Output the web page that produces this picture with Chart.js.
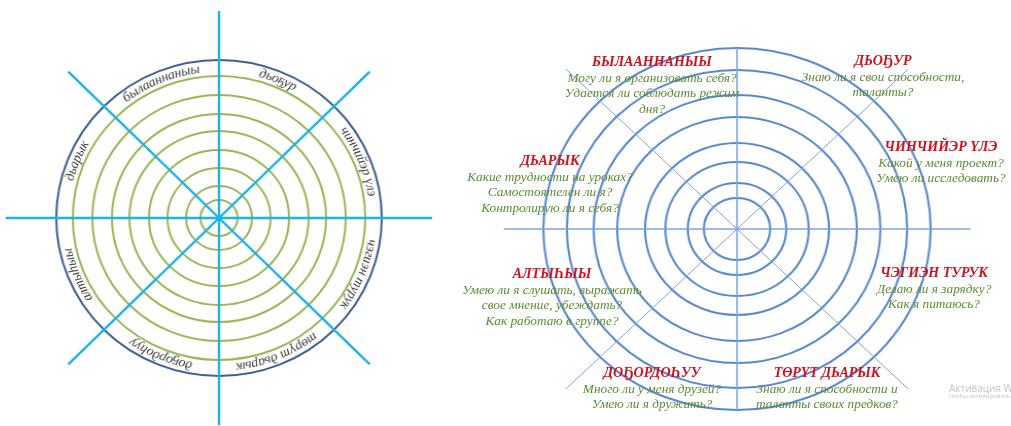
<!DOCTYPE html>
<html>
<head>
<meta charset="utf-8">
<script src="https://cdn.jsdelivr.net/npm/chart.js@4.4.1/dist/chart.umd.min.js"></script>
<style>
    body {
        margin: 0;
        width: 1011px;
        height: 426px;
        overflow: hidden;
        background: #fff;
        position: relative;
        font-family: "Liberation Serif", "DejaVu Serif", serif;
    }
    #wheelBox {
        position: absolute;
        left: 12px;
        top: 11px;
        transform: scaleX(1.03);
    }
    #ringBox {
        position: absolute;
        left: 511px;
        top: 3px;
        transform: scaleX(1.07);
    }
    .note {
        position: absolute;
        transform: translateX(-50%);
        text-align: center;
        white-space: nowrap;
        font-style: italic;
        font-size: 13.3px;
        line-height: 15.5px;
        color: #5b8c32;
    }
    .note b {
        display: block;
        color: #d0101e;
        font-weight: bold;
        font-size: 14px;
    }
    .mark {
        position: absolute;
        left: 949px;
        font-family: "Open Sans", sans-serif;
        white-space: nowrap;
        color: #c4c4c4;
    }
</style>
</head>
<body>

<div id="wheelBox"><canvas id="wheel-chart" width="414" height="414"></canvas></div>
<div id="ringBox"><canvas id="ring-chart" width="452" height="452"></canvas></div>

<div class="note" style="left:652px; top:54px"><b>БЫЛААННАНЫЫ</b>Могу ли я организовать себя?<br>Удается ли соблюдать режим<br>дня?</div>
<div class="note" style="left:883px; top:53px"><b>ДЬОҔУР</b>Знаю ли я свои способности,<br>таланты?</div>
<div class="note" style="left:550px; top:153px"><b>ДЬАРЫК</b>Какие трудности на уроках?<br>Самостоятелен ли я?<br>Контролирую ли я себя?</div>
<div class="note" style="left:941px; top:139px"><b>ЧИНЧИЙЭР ҮЛЭ</b>Какой у меня проект?<br>Умею ли исследовать?</div>
<div class="note" style="left:552px; top:266px"><b>АЛТЫҺЫЫ</b>Умею ли я слушать, выражать<br>свое мнение, убеждать?<br>Как работаю в группе?</div>
<div class="note" style="left:934px; top:265px"><b>ЧЭГИЭН ТУРУК</b>Делаю ли я зарядку?<br>Как я питаюсь?</div>
<div class="note" style="left:652px; top:365px"><b>ДОҔОРДОҺУУ</b>Много ли у меня друзей?<br>Умею ли я дружить?</div>
<div class="note" style="left:827px; top:365px"><b>ТӨРҮТ ДЬАРЫК</b>Знаю ли я способности и<br>таланты своих предков?</div>

<div class="mark" style="top:381px; font-size:10px">Активация Windows</div>
<div class="mark" style="top:392px; font-size:6px">Чтобы активировать Windows, перейдите в раздел "Параметры".</div>

<script>
// --- data --- //
const wheelLabels = ["дьоҕур", "чинчийэр үлэ", "чэгиэн турук", "төрүт дьарык",
                     "доҕордоһуу", "алтыһыы", "дьарык", "былааннаныы"];
const wheelRings = [18, 32, 50, 68, 87, 104, 123, 142];
const wheelEdge = 158;
const wheelSpoke = 207;
const wheelTextRing = 150;

const ringSectors = ["ДЬОҔУР", "ЧИНЧИЙЭР ҮЛЭ", "ЧЭГИЭН ТУРУК", "ТӨРҮТ ДЬАРЫК",
                     "ДОҔОРДОҺУУ", "АЛТЫҺЫЫ", "ДЬАРЫК", "БЫЛААННАНЫЫ"];
const ringLevels = [31, 46, 67, 86, 112, 134, 159, 181];
const ringSpoke = 226;
// cross through the centre: up/down stop at the outer ring, left/right go further
const crossReach = [181, 0, 218, 0, 181, 0, 218, 0];


// -- curved labels round the left wheel --//
const arcText = {
    id: 'arcText',
    afterDraw(chart) {
        const scale = chart.scales.r;
        const ctx = chart.ctx;
        const rad = scale.getDistanceFromCenterForValue(wheelTextRing);
        ctx.save();
        ctx.font = 'italic 13.5px "Liberation Serif", "DejaVu Serif", serif';
        ctx.fillStyle = '#3b3b3b';
        ctx.textAlign = 'center';
        ctx.textBaseline = 'middle';
        wheelLabels.forEach((txt, i) => {
            const mid = (i * 45 + 22.5) * Math.PI / 180;
            let a = mid - ctx.measureText(txt).width / 2 / rad;
            for (const ch of txt) {
                const w = ctx.measureText(ch).width;
                a += w / 2 / rad;
                ctx.save();
                ctx.translate(scale.xCenter, scale.yCenter);
                ctx.rotate(a);
                ctx.fillText(ch, 0, -rad);
                ctx.restore();
                a += w / 2 / rad;
            }
        });
        ctx.restore();
    }
};


// -- Left wheel --//
const wheelCanvas = document.getElementById("wheel-chart");

let wheelChart = new Chart(wheelCanvas, {
    type: 'radar',
    data: {
        labels: wheelLabels,
        datasets: [{
            data: wheelLabels.map(() => 0),
            borderWidth: 0,
            pointRadius: 0
        }]
    },
    options: {
        responsive: false,
        animation: false,
        plugins: {
            legend: { display: false },
            tooltip: { enabled: false }
        },
        scales: {
            r: {
                min: 0,
                max: wheelSpoke,
                afterBuildTicks: scale => {
                    scale.ticks = [0, ...wheelRings, wheelEdge, wheelSpoke].map(v => ({ value: v }));
                },
                ticks: { display: false },
                pointLabels: { display: false },
                grid: {
                    circular: true,
                    lineWidth: 2,
                    color: ctx => {
                        const v = ctx.tick.value;
                        if (v === wheelEdge) return '#3f5f93';
                        if (wheelRings.includes(v)) return '#96b955';
                        return 'rgba(0,0,0,0)';
                    }
                },
                angleLines: {
                    color: '#1cb2ea',
                    lineWidth: 2.4
                }
            }
        }
    },
    plugins: [arcText]
});


// -- Right wheel --//
const ringCanvas = document.getElementById("ring-chart");

let ringChart = new Chart(ringCanvas, {
    type: 'radar',
    data: {
        labels: ringSectors,
        datasets: [{
            data: crossReach,
            borderColor: '#7ea4da',
            borderWidth: 1,
            pointRadius: 0,
            fill: false,
            tension: 0
        }]
    },
    options: {
        responsive: false,
        animation: false,
        plugins: {
            legend: { display: false },
            tooltip: { enabled: false }
        },
        scales: {
            r: {
                min: 0,
                max: ringSpoke,
                afterBuildTicks: scale => {
                    scale.ticks = [0, ...ringLevels, ringSpoke].map(v => ({ value: v }));
                },
                ticks: { display: false },
                pointLabels: { display: false },
                grid: {
                    circular: true,
                    lineWidth: 2,
                    color: ctx => ringLevels.includes(ctx.tick.value) ? '#5a88cd' : 'rgba(0,0,0,0)'
                },
                angleLines: {
                    lineWidth: 1,
                    // only the diagonals; the cross is drawn by the dataset
                    color: ctx => ctx.index % 2 === 1 ? '#7ea4da' : 'rgba(0,0,0,0)'
                }
            }
        }
    }
});
</script>
</body>
</html>
